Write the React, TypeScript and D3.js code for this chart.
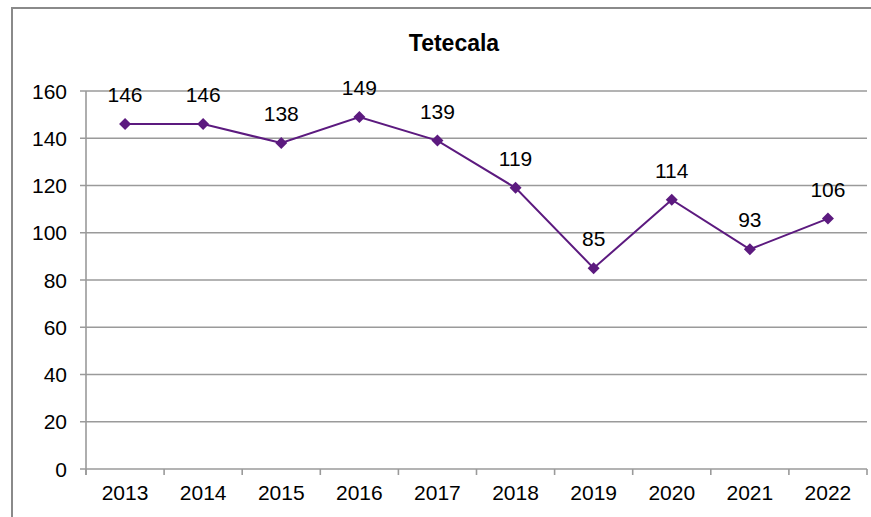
import React from "react";
import * as d3 from "d3";

const categories = ["2013", "2014", "2015", "2016", "2017", "2018", "2019", "2020", "2021", "2022"];
const values = [146, 146, 138, 149, 139, 119, 85, 114, 93, 106];
const yTicks = [0, 20, 40, 60, 80, 100, 120, 140, 160];
const title = "Tetecala";

const W = 871;
const H = 517;
const left = 86;
const right = 867;
const top = 91;
const bottom = 469;
const color = "#5c1a7f";
const grid = "#9a9a9a";
const font = "'Liberation Sans', Arial, sans-serif";

export default function App() {
  const x = d3.scaleBand<string>().domain(categories).range([left, right]);
  const y = d3.scaleLinear().domain([0, 160]).range([bottom, top]);
  const cx = (c: string) => (x(c) as number) + x.bandwidth() / 2;
  const line = d3
    .line<number>()
    .x((_, i) => cx(categories[i]))
    .y((d) => y(d));
  const tickXs = categories.map((c) => x(c) as number).concat([right]);
  const r = 6;
  const diamond = `M0,${-r}L${r},0L0,${r}L${-r},0Z`;

  return (
    <svg width={W} height={H} style={{ position: "absolute", left: 0, top: 0, display: "block" }}>
      <rect x={0} y={0} width={W} height={H} fill="#fff" />
      <rect x={12} y={8} width={W + 20} height={H + 20} fill="none" stroke="#8a8a8a" strokeWidth={2} />
      <text x={454} y={51} textAnchor="middle" fontFamily={font} fontSize={23} fontWeight="bold" fill="#000">
        {title}
      </text>
      {yTicks.map((t) => (
        <g key={t}>
          <line x1={left - 6} x2={right} y1={y(t)} y2={y(t)} stroke={grid} strokeWidth={1.6} />
          <text x={67} y={y(t)} dy="0.36em" textAnchor="end" fontFamily={font} fontSize={21} fill="#000">
            {t}
          </text>
        </g>
      ))}
      <line x1={left} x2={left} y1={top} y2={bottom + 6} stroke={grid} strokeWidth={1.6} />
      {tickXs.map((tx, i) => (
        <line key={i} x1={tx} x2={tx} y1={bottom} y2={bottom + 6} stroke={grid} strokeWidth={1.6} />
      ))}
      {categories.map((c) => (
        <text key={c} x={cx(c)} y={500} textAnchor="middle" fontFamily={font} fontSize={21} fill="#000">
          {c}
        </text>
      ))}
      <path d={line(values) as string} fill="none" stroke={color} strokeWidth={2} />
      {values.map((v, i) => (
        <g key={i}>
          <path d={diamond} transform={`translate(${cx(categories[i])},${y(v)})`} fill={color} />
          <text x={cx(categories[i])} y={y(v) - 22} textAnchor="middle" fontFamily={font} fontSize={21} fill="#000">
            {v}
          </text>
        </g>
      ))}
    </svg>
  );
}
